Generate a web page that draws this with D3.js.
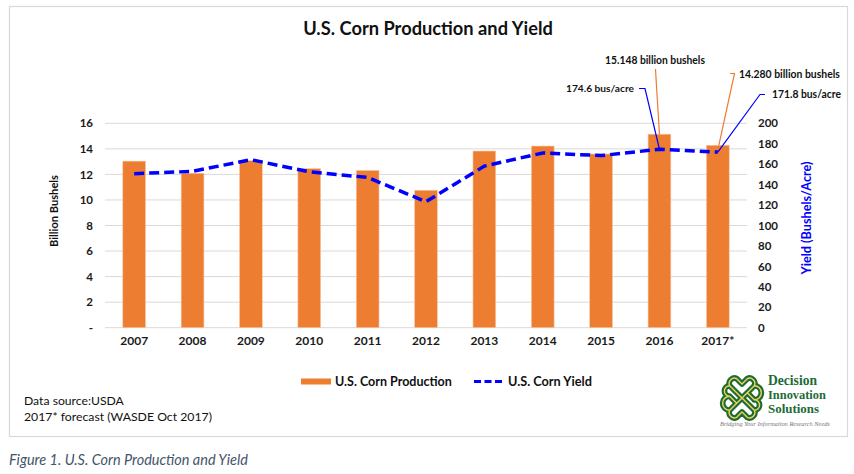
<!DOCTYPE html>
<html>
<head>
<meta charset="utf-8">
<script src="https://cdn.jsdelivr.net/npm/d3@7"></script>
<style>
  html, body { margin: 0; padding: 0; background: #ffffff; }
  svg { display: block; font-family: Lato, "Open Sans", sans-serif; }
</style>
</head>
<body>
<svg id="chart" width="854" height="474"></svg>
<script>
// ---------------- data ----------------
const years = ["2007","2008","2009","2010","2011","2012","2013","2014","2015","2016","2017*"];
const production = [13.04, 12.09, 13.07, 12.45, 12.31, 10.76, 13.83, 14.22, 13.60, 15.148, 14.28];
const yieldVals = [150.7, 153.0, 164.4, 152.6, 147.0, 123.3, 158.1, 171.0, 168.4, 174.6, 171.8];
const leftTicks = [0, 2, 4, 6, 8, 10, 12, 14, 16];
const rightTicks = [0, 20, 40, 60, 80, 100, 120, 140, 160, 180, 200];
const titleText = "U.S. Corn Production and Yield";
const leftAxisTitle = "Billion Bushels";
const rightAxisTitle = "Yield (Bushels/Acre)";
const seriesNames = ["U.S. Corn Production", "U.S. Corn Yield"];
const notes = ["Data source:USDA", "2017* forecast (WASDE Oct 2017)"];
const caption = "Figure 1. U.S. Corn Production and Yield";
const annotations = [
  {label: "15.148 billion bushels", series: "bar", idx: 9},
  {label: "174.6 bus/acre", series: "line", idx: 9},
  {label: "14.280 billion bushels", series: "bar", idx: 10},
  {label: "171.8 bus/acre", series: "line", idx: 10}
];

// ---------------- setup ----------------
const svg = d3.select("#chart");
const ORANGE = "#ED7D31", BLUE = "#0000FF", GRID = "#d9d9d9";

function fit(sel, w) {
  const node = sel.node();
  const fs = parseFloat(sel.attr("font-size"));
  const len = node.getComputedTextLength();
  if (len > 0) sel.attr("font-size", (fs * w / len).toFixed(2));
  return sel;
}

// outer frame
svg.append("rect").attr("x", 9.5).attr("y", 6.5).attr("width", 838).attr("height", 430)
  .attr("fill", "#fff").attr("stroke", "#d9d9d9").attr("stroke-width", 1.2);

// scales
const x = d3.scaleBand().domain(years).range([105, 747]).paddingInner(0.61).paddingOuter(0.305);
const yL = d3.scaleLinear().domain([0, 16]).range([327.7, 123.3]);
const yR = d3.scaleLinear().domain([0, 200]).range([327.7, 123.3]);

// gridlines
svg.append("g").selectAll("line").data(leftTicks).join("line")
  .attr("x1", 105).attr("x2", 747)
  .attr("y1", d => yL(d)).attr("y2", d => yL(d))
  .attr("stroke", GRID).attr("stroke-width", 1);

// bars
svg.append("g").selectAll("rect").data(production).join("rect")
  .attr("x", (d, i) => x(years[i]))
  .attr("width", x.bandwidth())
  .attr("y", d => yL(d))
  .attr("height", d => yL(0) - yL(d))
  .attr("fill", ORANGE).attr("stroke", "#f6c9a8").attr("stroke-width", 0.6);

// yield line
const line = d3.line().x((d, i) => x(years[i]) + x.bandwidth() / 2).y(d => yR(d));
svg.append("path").datum(yieldVals).attr("d", line)
  .attr("fill", "none").attr("stroke", BLUE).attr("stroke-width", 3.5)
  .attr("stroke-dasharray", "10,5");

// left axis
const axL = d3.axisLeft(yL).tickValues(leftTicks).tickSize(0).tickPadding(0)
  .tickFormat(d => d === 0 ? "-" : d3.format("d")(d));
const gL = svg.append("g").attr("transform", "translate(93,0)").call(axL);
gL.select(".domain").remove();
gL.selectAll("text").attr("font-size", 11.5).attr("font-weight", "bold")
  .attr("fill", "#1a1a1a").attr("font-family", "Lato, sans-serif");

// right axis
const axR = d3.axisRight(yR).tickValues(rightTicks).tickSize(0).tickPadding(0)
  .tickFormat(d3.format("d"));
const gR = svg.append("g").attr("transform", "translate(758,0)").call(axR);
gR.select(".domain").remove();
gR.selectAll("text").attr("font-size", 11.5).attr("font-weight", "bold")
  .attr("fill", "#1a1a1a").attr("font-family", "Lato, sans-serif");

// x axis
const axX = d3.axisBottom(x).tickSize(0).tickPadding(0);
const gX = svg.append("g").attr("transform", "translate(0,336)").call(axX);
gX.select(".domain").remove();
gX.selectAll("text").attr("font-size", 12).attr("font-weight", "bold")
  .attr("fill", "#1a1a1a").attr("font-family", "Lato, sans-serif");

// title
fit(svg.append("text").attr("x", 428).attr("y", 35).attr("text-anchor", "middle")
  .attr("font-size", 19).attr("font-weight", "bold").attr("fill", "#111").text(titleText), 250);

// axis titles
fit(svg.append("text").attr("transform", "translate(58,211) rotate(-90)").attr("text-anchor", "middle")
  .attr("font-size", 12).attr("font-weight", "bold").attr("fill", "#111").text(leftAxisTitle), 72);
fit(svg.append("text").attr("transform", "translate(811,218) rotate(-90)").attr("text-anchor", "middle")
  .attr("font-size", 13).attr("font-weight", "bold").attr("fill", BLUE).text(rightAxisTitle), 113);

// annotations
const cx = i => x(years[i]) + x.bandwidth() / 2;
const annG = svg.append("g");
// 15.148 (2016 bar)
(function () {
  const a = annotations[0], px = cx(a.idx), py = yL(production[a.idx]);
  annG.append("path").attr("d", `M${px - 4},69 L${px},${py}`).attr("stroke", ORANGE).attr("fill", "none").attr("stroke-width", 1.2);
  fit(annG.append("text").attr("x", 655).attr("y", 64).attr("text-anchor", "middle")
    .attr("font-size", 11.5).attr("font-weight", "bold").attr("fill", "#111").text(a.label), 100);
})();
// 174.6 (2016 yield)
(function () {
  const a = annotations[1], px = cx(a.idx), py = yR(yieldVals[a.idx]);
  annG.append("path").attr("d", `M639,88.5 L645,88.5 L${px},${py}`).attr("stroke", BLUE).attr("fill", "none").attr("stroke-width", 1.2);
  fit(annG.append("text").attr("x", 634).attr("y", 92).attr("text-anchor", "end")
    .attr("font-size", 11.5).attr("font-weight", "bold").attr("fill", "#111").text(a.label), 68);
})();
// 14.280 (2017 bar)
(function () {
  const a = annotations[2], px = cx(a.idx), py = yL(production[a.idx]);
  annG.append("path").attr("d", `M730,73.5 L734.5,73.5 L${px + 1},${py}`).attr("stroke", ORANGE).attr("fill", "none").attr("stroke-width", 1.2);
  fit(annG.append("text").attr("x", 739).attr("y", 78).attr("text-anchor", "start")
    .attr("font-size", 11.5).attr("font-weight", "bold").attr("fill", "#111").text(a.label), 101);
})();
// 171.8 (2017 yield)
(function () {
  const a = annotations[3], px = cx(a.idx), py = yR(yieldVals[a.idx]);
  annG.append("path").attr("d", `M765,94.5 L760,94.5 L${px},${py}`).attr("stroke", BLUE).attr("fill", "none").attr("stroke-width", 1.2);
  fit(annG.append("text").attr("x", 772).attr("y", 98).attr("text-anchor", "start")
    .attr("font-size", 11.5).attr("font-weight", "bold").attr("fill", "#111").text(a.label), 69);
})();

// legend
const lg = svg.append("g");
lg.append("rect").attr("x", 301).attr("y", 378.5).attr("width", 30).attr("height", 6).attr("fill", ORANGE);
fit(lg.append("text").attr("x", 335).attr("y", 385.5).attr("font-size", 12.5).attr("font-weight", "bold")
  .attr("fill", "#111").text(seriesNames[0]), 117);
lg.append("line").attr("x1", 474).attr("x2", 503).attr("y1", 381.5).attr("y2", 381.5)
  .attr("stroke", BLUE).attr("stroke-width", 3).attr("stroke-dasharray", "7,3.5");
fit(lg.append("text").attr("x", 508).attr("y", 385.5).attr("font-size", 12.5).attr("font-weight", "bold")
  .attr("fill", "#111").text(seriesNames[1]), 84);

// notes
notes.forEach((t, i) => {
  fit(svg.append("text").attr("x", 24).attr("y", 405 + i * 16).attr("font-size", 13)
    .attr("fill", "#111").text(t), i === 0 ? 100 : 188);
});

// caption
fit(svg.append("text").attr("x", 9).attr("y", 465).attr("font-size", 14).attr("font-style", "italic")
  .attr("fill", "#44546A").text(caption), 239);

// logo
const logo = svg.append("g").attr("transform", "translate(742,398) scale(0.88)");
const knot = "M-6,-6 L-14,-14 A6,6 0 0 1 -6,-22 L0,-16 L6,-22 A6,6 0 0 1 14,-14 L6,-6 L14,2 " +
  "M6,6 L14,14 A6,6 0 0 1 6,22 L0,16 L-6,22 A6,6 0 0 1 -14,14 L-6,6 L-14,-2 " +
  "M-6,-6 L6,6 M6,-6 L-6,6 M14,2 A6,6 0 0 1 14,14 M-14,-2 A6,6 0 0 0 -14,14 " +
  "M-14,-14 A6,6 0 0 0 -14,-2 M14,-14 A6,6 0 0 1 14,2";
logo.append("path").attr("d", knot).attr("fill", "none").attr("stroke", "#1d6b35")
  .attr("stroke-width", 6.5).attr("stroke-linecap", "round").attr("stroke-linejoin", "round");
logo.append("path").attr("d", knot).attr("fill", "none").attr("stroke", "#f0d35a")
  .attr("stroke-width", 1.6).attr("stroke-linecap", "round").attr("stroke-linejoin", "round");
const logoWords = ["Decision", "Innovation", "Solutions"];
logoWords.forEach((t, i) => {
  fit(svg.append("text").attr("x", 768).attr("y", 385 + i * 14).attr("font-size", 13)
    .attr("font-family", "'Liberation Serif', 'DejaVu Serif', serif").attr("font-weight", "bold")
    .attr("fill", "#1d6b35").text(t), [49, 58, 51][i]);
});
fit(svg.append("text").attr("x", 720).attr("y", 426).attr("font-size", 5)
  .attr("font-family", "'Liberation Serif', serif").attr("font-style", "italic")
  .attr("fill", "#777").text("Bridging Your Information Research Needs"), 110);
</script>
</body>
</html>
